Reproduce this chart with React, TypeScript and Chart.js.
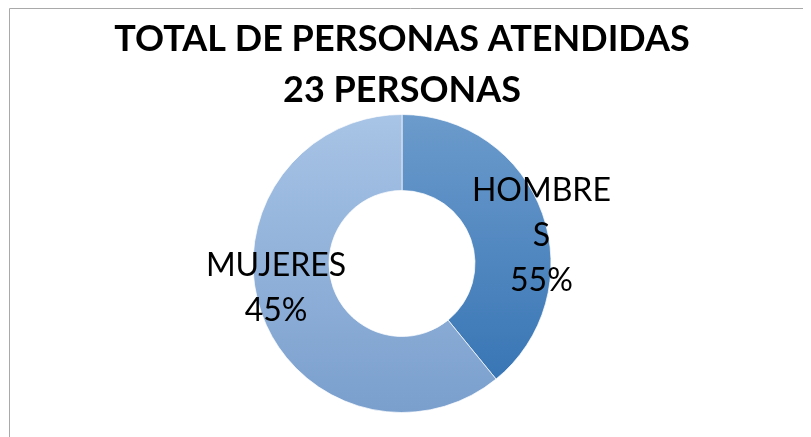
import React, { useEffect, useRef } from "react";
import { Chart, registerables } from "chart.js";

Chart.register(...registerables);

const titleLines = ["TOTAL DE PERSONAS ATENDIDAS", "23 PERSONAS"];
const categories = ["HOMBRES", "MUJERES"];
const values = [9, 14];
const percentLabels = ["55%", "45%"];
const labelLines = [["HOMBRE", "S", percentLabels[0]], ["MUJERES", percentLabels[1]]];

const FONT = "Lato, 'Open Sans', sans-serif";

const framePlugin = {
  id: "frame",
  beforeDraw(chart: any) {
    const ctx = chart.ctx;
    ctx.save();
    ctx.fillStyle = "#ffffff";
    ctx.fillRect(0, 0, chart.width, chart.height);
    ctx.strokeStyle = "#a9a9a9";
    ctx.lineWidth = 1;
    ctx.beginPath();
    ctx.moveTo(1.5, chart.height);
    ctx.lineTo(1.5, 0.5);
    ctx.lineTo(chart.width, 0.5);
    ctx.stroke();
    ctx.restore();
  },
};

// angle offset (deg) and radius factor for each slice label
const placement = [
  { off: 8, f: 0.955 },
  { off: 9, f: 0.86 },
];

const labelPlugin = {
  id: "sliceLabels",
  afterDatasetsDraw(chart: any) {
    const ctx = chart.ctx;
    const meta = chart.getDatasetMeta(0);
    ctx.save();
    ctx.font = `32px ${FONT}`;
    ctx.fillStyle = "#000000";
    ctx.textAlign = "center";
    ctx.textBaseline = "alphabetic";
    const lh = 45;
    const capHalf = 11.5;
    meta.data.forEach((arc: any, i: number) => {
      const p = arc.getProps(["x", "y", "startAngle", "endAngle", "outerRadius"], true);
      const mid = (p.startAngle + p.endAngle) / 2 + (placement[i].off * Math.PI) / 180;
      const r = p.outerRadius * placement[i].f;
      const cx = p.x + r * Math.cos(mid);
      const cy = p.y + r * Math.sin(mid);
      const lines = labelLines[i];
      const n = lines.length;
      lines.forEach((t, k) => {
        ctx.fillText(t, cx, cy + (k - (n - 1) / 2) * lh + capHalf);
      });
    });
    ctx.restore();
  },
};

function makeGradient(chart: any, top: string, bottom: string) {
  const area = chart.chartArea;
  if (!area) return top;
  const g = chart.ctx.createLinearGradient(0, area.top, 0, area.bottom);
  g.addColorStop(0, top);
  g.addColorStop(1, bottom);
  return g;
}

export default function App() {
  const ref = useRef<HTMLCanvasElement>(null);
  useEffect(() => {
    document.documentElement.style.overflow = "hidden";
    document.body.style.overflow = "hidden";
    const chart = new Chart(ref.current!, {
      type: "doughnut",
      data: {
        labels: categories,
        datasets: [
          {
            data: values,
            backgroundColor: (c: any) =>
              c.dataIndex === 0
                ? makeGradient(c.chart, "#6c9bcc", "#3271b2")
                : makeGradient(c.chart, "#a8c4e6", "#7a9fcd"),
            borderColor: "rgba(255,255,255,0.7)",
            borderWidth: 1,
          },
        ],
      },
      options: {
        responsive: false,
        animation: false,
        cutout: "49%",
        layout: { padding: { left: 0, right: 15, top: 0, bottom: 24 } },
        plugins: {
          legend: { display: false },
          tooltip: { enabled: false },
          title: {
            display: true,
            text: titleLines,
            color: "#000000",
            font: { family: FONT, size: 36, weight: "bold", lineHeight: 1.4167 },
            padding: { top: 6, bottom: -2 },
          },
        },
      },
      plugins: [framePlugin, labelPlugin],
    });
    return () => chart.destroy();
  }, []);
  return (
    <div style={{ width: 803, height: 429 }}>
      <canvas ref={ref} width={803} height={429} />
    </div>
  );
}
